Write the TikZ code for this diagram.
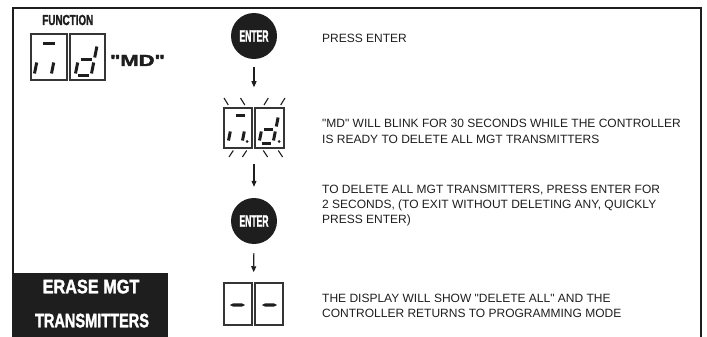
\documentclass[tikz,border=0pt]{standalone}
\usepackage{fontspec}
\usepackage{graphicx}
\setmainfont{Liberation Sans}[Ligatures=TeXOff]
\newfontfamily\heavy{Liberation Sans Bold}[FakeBold=2, Ligatures=TeXOff]
\usetikzlibrary{arrows.meta,fit}
\definecolor{ink}{HTML}{1E1E1E}
\tikzset{
  frameline/.style={line width=2.4pt, draw=ink},
  digbox/.style={draw=ink!90, line width=1.1pt, inner sep=0pt},
  seg/.style={line width=3pt, draw=ink, line cap=butt},
  ray/.style={line width=1.1pt, draw=ink},
  arr/.style={-{Triangle[length=6pt,width=5pt]}, line width=1.1pt, draw=ink},
  enterbtn/.style={circle, fill=ink, minimum size=46pt, inner sep=0pt, text=white},
  txt/.style={anchor=base west, inner sep=0pt, font=\fontsize{12}{15}\selectfont, text=ink},
  ghost/.style={inner sep=0pt, draw=none},
}
\newcommand\sevseg[5]{%
  \begin{scope}[shift={(#1,#2)}]
    \pgfmathsetmacro\sgW{#3}
    \pgfmathsetmacro\sgH{#4}
    \pgfmathsetmacro\sgM{#4/2}
    \def\sgS{0.2}\def\sgG{2.5}
    \coordinate (sga1) at ({\sgG+\sgS*\sgH},{-\sgH});
    \coordinate (sga2) at ({\sgW-\sgG+\sgS*\sgH},{-\sgH});
    \coordinate (sgb1) at ({\sgW+\sgS*(\sgH-\sgG)},{-(\sgH-\sgG)});
    \coordinate (sgb2) at ({\sgW+\sgS*(\sgM+\sgG)},{-(\sgM+\sgG)});
    \coordinate (sgc1) at ({\sgW+\sgS*(\sgM-\sgG)},{-(\sgM-\sgG)});
    \coordinate (sgc2) at ({\sgW+\sgS*\sgG},{-\sgG});
    \coordinate (sgd1) at (\sgG,0);
    \coordinate (sgd2) at ({\sgW-\sgG},0);
    \coordinate (sge1) at ({\sgS*(\sgM-\sgG)},{-(\sgM-\sgG)});
    \coordinate (sge2) at ({\sgS*\sgG},{-\sgG});
    \coordinate (sgf1) at ({\sgS*(\sgH-\sgG)},{-(\sgH-\sgG)});
    \coordinate (sgf2) at ({\sgS*(\sgM+\sgG)},{-(\sgM+\sgG)});
    \coordinate (sgg1) at ({\sgG+\sgS*\sgM},{-\sgM});
    \coordinate (sgg2) at ({\sgW-\sgG+\sgS*\sgM},{-\sgM});
    \foreach \q in {#5}{\draw[seg] (sg\q1) -- (sg\q2);}
  \end{scope}}
\begin{document}
\begin{tikzpicture}[x=1pt,y=-1pt]
\useasboundingbox (0,0) rectangle (707,337);
% frame
\draw[frameline] (13,273) -- (13,8) -- (701,8) -- (701,337);
\fill[ink] (11.8,273) rectangle (168,337);
\node[anchor=base, inner sep=0pt, text=white] (erase1) at (91,293.3)
  {\scalebox{0.834}[1]{\heavy\fontsize{19.5}{20}\selectfont ERASE MGT}};
\node[anchor=base, inner sep=0pt, text=white] (erase2) at (92,327.3)
  {\scalebox{0.746}[1]{\heavy\fontsize{19.5}{20}\selectfont TRANSMITTERS}};

% function display
\node[anchor=base, inner sep=0pt, text=ink] (fn) at (67.8,25)
  {\scalebox{0.68}[1]{\heavy\fontsize{14.5}{15}\selectfont FUNCTION}};
\node[digbox, minimum width=36pt, minimum height=46pt] (fbox1) at (49,57) {};
\node[digbox, minimum width=35pt, minimum height=46pt] (fbox2) at (87.5,57) {};
\sevseg{34}{76}{17}{32}{a,c,e}
\sevseg{75}{76}{16}{32}{b,c,d,e,g}
\node[anchor=base, inner sep=0pt, text=ink] (mdlbl) at (137.5,66)
  {\scalebox{1.37}[1]{\heavy\fontsize{16}{16}\selectfont "MD"}};

% column of steps
\node[enterbtn] (enter1) at (254,36)
  {\scalebox{0.52}[1]{\heavy\fontsize{16.5}{17}\selectfont ENTER}};

\node[digbox, minimum width=28pt, minimum height=40pt] (bbox1) at (238,128) {};
\node[digbox, minimum width=29pt, minimum height=40pt] (bbox2) at (269.5,128) {};
\node[ghost, fit=(bbox1)(bbox2)] (blink) {};
\sevseg{228}{143}{14}{28}{a,c,e}
\sevseg{259}{143}{14}{28}{b,c,d,e,g}
\fill[ink] (247,141.5) circle (1.5);
\fill[ink] (279,141.5) circle (1.5);
% blink rays
\draw[ray] (224,98) -- (228.3,105);
\draw[ray] (240.5,98) -- (244.8,105);
\draw[ray] (268.3,98) -- (264,105);
\draw[ray] (285,98) -- (280.7,105);
\draw[ray] (233.3,150.5) -- (229,157);
\draw[ray] (246.7,150.5) -- (242.4,157);
\draw[ray] (263.3,150.5) -- (267.6,157);
\draw[ray] (278.3,150.5) -- (282.6,157);

\node[enterbtn] (enter2) at (254,221)
  {\scalebox{0.52}[1]{\heavy\fontsize{16.5}{17}\selectfont ENTER}};

\node[digbox, minimum width=28pt, minimum height=42pt] (dbox1) at (238,304) {};
\node[digbox, minimum width=28pt, minimum height=42pt] (dbox2) at (269,304) {};
\node[ghost, fit=(dbox1)(dbox2)] (dash) {};
\fill[ink] (230,305) -- (233,303.4) -- (242,303.4) -- (245,305) -- (242,306.6) -- (233,306.6) -- cycle;
\fill[ink] (262,305) -- (265,303.4) -- (274,303.4) -- (277,305) -- (274,306.6) -- (265,306.6) -- cycle;

% arrows
\draw[arr, shorten <=8pt, shorten >=20pt] (enter1) -- (blink);
\draw[arr, shorten <=15pt, shorten >=11pt] (blink) -- (enter2);
\draw[arr, shorten <=9pt, shorten >=10pt] (enter2) -- (dash);

% texts
\node[txt] (t1) at (322,43) {PRESS ENTER};
\node[txt] (t2a) at (322,128) {"MD" WILL BLINK FOR 30 SECONDS WHILE THE CONTROLLER};
\node[txt] (t2b) at (322,143) {IS READY TO DELETE ALL MGT TRANSMITTERS};
\node[txt] (t3a) at (322,193) {TO DELETE ALL MGT TRANSMITTERS, PRESS ENTER FOR};
\node[txt] (t3b) at (322,208) {2 SECONDS, (TO EXIT WITHOUT DELETING ANY, QUICKLY};
\node[txt] (t3c) at (322,223) {PRESS ENTER)};
\node[txt] (t4a) at (322,302) {THE DISPLAY WILL SHOW "DELETE ALL" AND THE};
\node[txt] (t4b) at (322,317) {CONTROLLER RETURNS TO PROGRAMMING MODE};
\end{tikzpicture}
\end{document}
